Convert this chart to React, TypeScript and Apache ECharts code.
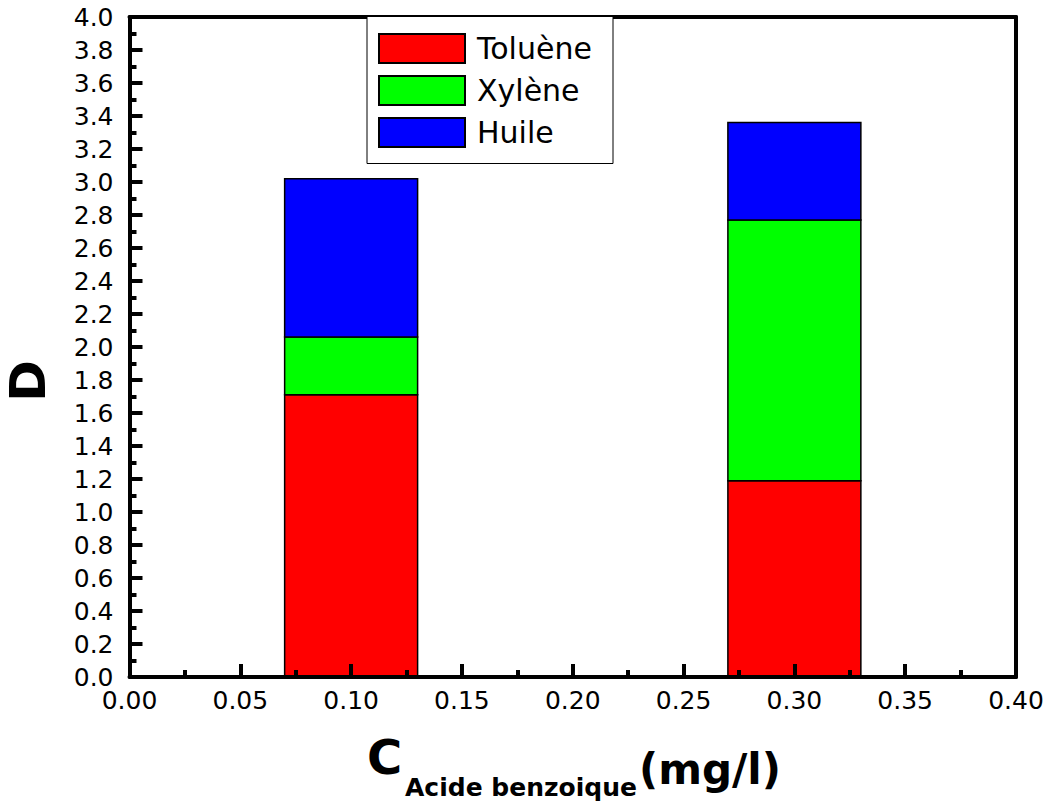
import React, { useEffect, useRef } from "react";
import * as echarts from "echarts";

const concentrations = [0.1, 0.3];
const toluene = [1.71, 1.19];
const xylene = [0.35, 1.58];
const huile = [0.96, 0.59];
const seriesNames = ["Toluène", "Xylène", "Huile"];
const seriesColors = ["#ff0000", "#00ff00", "#0000ff"];
const xTicks = { min: 0, max: 0.4, interval: 0.05 };
const yTicks = { min: 0, max: 4.0, interval: 0.2 };

const BAR_HALF = 0.03;

function buildStacks() {
  const layers = [toluene, xylene, huile];
  const base = concentrations.map(() => 0);
  return layers.map((vals) =>
    concentrations.map((x, i) => {
      const lo = base[i];
      const hi = lo + vals[i];
      base[i] = hi;
      return [x, lo, hi];
    })
  );
}

export default function App() {
  const ref = useRef<HTMLDivElement>(null);
  useEffect(() => {
    if (!ref.current) return;
    const chart = echarts.init(ref.current, null, { renderer: "svg" });
    const stacks = buildStacks();
    const font = "DejaVu Sans";
    const axisCommon = {
      z: 4,
      axisLine: { show: true, onZero: false, lineStyle: { color: "#000", width: 4 } },
      splitLine: { show: false },
    };
    const option: any = {
      animation: false,
      backgroundColor: "#fff",
      grid: { left: 129.5, top: 17, right: 31, bottom: 132, containLabel: false },
      xAxis: [
        {
          type: "value",
          position: "bottom",
          min: xTicks.min,
          max: xTicks.max,
          interval: xTicks.interval,
          ...axisCommon,
          axisTick: { show: true, inside: true, length: 13, lineStyle: { color: "#000", width: 4 } },
          minorTick: { show: true, splitNumber: 2, length: 7, lineStyle: { color: "#000", width: 4 } },
          axisLabel: {
            color: "#000",
            fontFamily: font,
            fontSize: 25,
            margin: 11,
            formatter: (v: number) => v.toFixed(2),
          },
        },
        {
          type: "value",
          position: "top",
          min: xTicks.min,
          max: xTicks.max,
          interval: xTicks.interval,
          ...axisCommon,
          axisTick: { show: false },
          axisLabel: { show: false },
        },
      ],
      yAxis: [
        {
          type: "value",
          position: "left",
          min: yTicks.min,
          max: yTicks.max,
          interval: yTicks.interval,
          ...axisCommon,
          axisTick: { show: true, inside: true, length: 13, lineStyle: { color: "#000", width: 4 } },
          minorTick: { show: true, splitNumber: 2, length: 7, lineStyle: { color: "#000", width: 4 } },
          axisLabel: {
            color: "#000",
            fontFamily: font,
            fontSize: 25,
            margin: 16,
            formatter: (v: number) => v.toFixed(1),
          },
        },
        {
          type: "value",
          position: "right",
          min: yTicks.min,
          max: yTicks.max,
          interval: yTicks.interval,
          ...axisCommon,
          axisTick: { show: false },
          axisLabel: { show: false },
        },
      ],
      legend: {
        orient: "vertical",
        left: 378,
        top: 33,
        padding: 0,
        itemWidth: 86,
        itemHeight: 29,
        itemGap: 11,
        icon: "rect",
        z: 10,
        selectedMode: false,
        textStyle: {
          color: "#000",
          fontFamily: font,
          fontSize: 30,
          padding: [0, 0, 0, 7],
        },
        data: seriesNames,
      },
      series: stacks.map((data, k) => ({
        type: "custom",
        name: seriesNames[k],
        xAxisIndex: 0,
        yAxisIndex: 0,
        z: 2,
        itemStyle: { color: seriesColors[k], borderColor: "#000", borderWidth: 1.5 },
        encode: { x: 0, y: [1, 2] },
        data,
        renderItem: (params: any, api: any) => {
          const x = api.value(0);
          const lo = api.value(1);
          const hi = api.value(2);
          const p1 = api.coord([x - BAR_HALF, hi]);
          const p2 = api.coord([x + BAR_HALF, lo]);
          return {
            type: "rect",
            shape: { x: p1[0], y: p1[1], width: p2[0] - p1[0], height: p2[1] - p1[1] },
            style: { fill: seriesColors[k], stroke: "#000", lineWidth: 1.5 },
          };
        },
      })),
      graphic: [
        {
          type: "rect",
          z: 5,
          shape: { x: 367, y: 16.5, width: 246, height: 147 },
          style: { fill: "#fff", stroke: "#000", lineWidth: 1 },
        },
        {
          type: "text",
          z: 5,
          x: 28,
          y: 381,
          rotation: Math.PI / 2,
          style: {
            text: "D",
            fontFamily: font,
            fontWeight: "bold",
            fontSize: 50,
            fill: "#000",
            align: "center",
            verticalAlign: "middle",
          },
        },
        {
          type: "text",
          z: 5,
          x: 367,
          y: 757,
          style: {
            text: "C",
            fontFamily: font,
            fontWeight: "bold",
            fontSize: 48,
            fill: "#000",
            align: "left",
            verticalAlign: "middle",
          },
        },
        {
          type: "text",
          z: 5,
          x: 405,
          y: 787,
          style: {
            text: "Acide benzoique",
            fontFamily: font,
            fontWeight: "bold",
            fontSize: 25,
            fill: "#000",
            align: "left",
            verticalAlign: "middle",
          },
        },
        {
          type: "text",
          z: 5,
          x: 639,
          y: 769,
          style: {
            text: "(mg/l)",
            fontFamily: font,
            fontWeight: "bold",
            fontSize: 42,
            fill: "#000",
            align: "left",
            verticalAlign: "middle",
          },
        },
      ],
    };
    chart.setOption(option);
    return () => chart.dispose();
  }, []);
  return (
    <div
      ref={ref}
      style={{ position: "fixed", left: 0, top: 0, width: 1047, height: 809 }}
    />
  );
}
